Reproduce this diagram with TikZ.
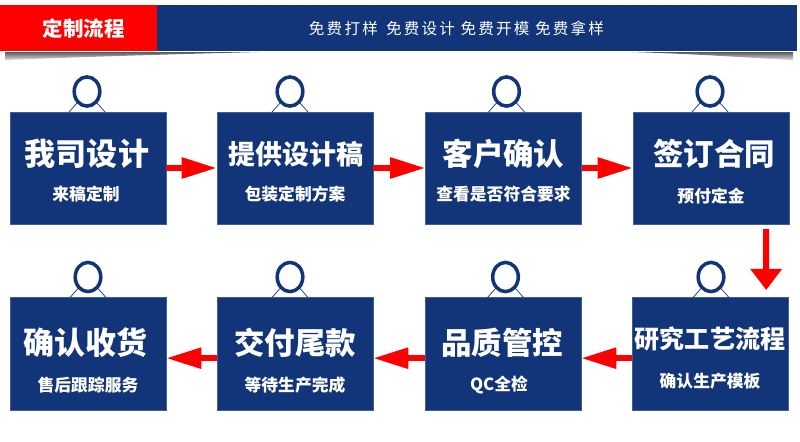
\documentclass[tikz,border=0pt]{standalone}
\usepackage{fontspec}
\usepackage{tikz}
\usetikzlibrary{arrows.meta}
\setmainfont{Noto Sans CJK SC}
\definecolor{navy}{RGB}{18, 52, 120}
\definecolor{flow}{RGB}{255, 0, 0}
\tikzset{
  signbox/.style={fill=navy, draw=navy!80!white, line width=0.4pt, minimum width=133pt, minimum height=96pt, inner sep=0pt},
  signtitle/.style={text=white, font=\bfseries, inner sep=0pt},
  signsub/.style={text=white, font=\bfseries\fontsize{14.3}{16}\selectfont, inner sep=0pt},
  ring/.style={draw=navy, line width=3pt, fill=white},
  leg/.style={draw=navy, line width=0.6pt},
  flowarrow/.style={draw=flow, line width=5pt, -{Triangle[length=30pt, width=17pt]}},
  flowdown/.style={draw=flow, line width=5pt, -{Triangle[length=18pt, width=26pt]}}
}

\begin{document}
\begin{tikzpicture}[x=0.03cm, y=-0.03cm]
  \useasboundingbox (0, 0) rectangle (800, 442);

  % Header band
  \shade [top color=black!65, bottom color=black!12] (5, 52) -- (5, 60) .. controls (80, 57) and (180, 54) .. (260, 52) -- cycle;
  \shade [top color=black!65, bottom color=black!12] (793, 52) -- (793, 60) .. controls (750, 58) and (700, 54) .. (630, 52) -- cycle;
  \fill [navy] (157, 5) rectangle (797, 51);
  \fill [flow] (0, 5) rectangle (157, 51);
  \node (head) [text=white, font=\fontsize{17.5}{20}\selectfont\bfseries, inner sep=0pt] at (84, 29) {定制流程};
  \node (slogan) [text=white, font=\fontsize{13.3}{16}\selectfont\addfontfeature{LetterSpace=14}, inner sep=0pt] at (456.5, 28) {免费打样\hspace{7pt}免费设计 免费开模 免费拿样};

  % Signs
  \foreach \name/\x/\y/\rx/\size/\title/\sub/\tx/\ty/\sx/\sy in {
    one/88/168/87/26.5/我司设计/来稿定制/-1/-14/-2/26,
    two/295/168/290/23/提供设计稿/包装定制方案/1/-14/0/26,
    three/503.5/168/506.5/26/客户确认/查看是否符合要求/0/-14/0/26,
    four/711/168/710/26/签订合同/预付定金/3/-14/0/28,
    five/710/353.5/711/21.4/研究工艺流程/确认生产模板/0/-15/0/28,
    six/503/353.5/505.5/26/品质管控/QC全检/-1/-11/-4/31,
    seven/295/353.5/290/26/交付尾款/等待生产完成/0/-11/0/32,
    eight/88/353.5/88/26.5/确认收货/售后跟踪服务/-2.5/-11/0/32} {
    \node (\name) [signbox] at (\x, \y) {};
    \node (\name title) [signtitle] at (\x + \tx, \y + \ty) {\fontsize{\size}{30}\selectfont \title};
    \node (\name sub) [signsub] at (\x + \sx, \y + \sy) {\sub};
    \draw [leg] (\rx - 18, \y - 56) -- (\rx - 10, \y - 65);
    \draw [leg] (\rx + 18, \y - 56) -- (\rx + 10, \y - 65);
    \draw [ring] (\rx, \y - 76.5) ellipse (12.8 and 14.6);
  }

  % Arrows
  \draw [flowarrow] (one) -- (two);
  \draw [flowarrow] (two) -- (three);
  \draw [flowarrow] (three) -- (four);
  \draw [flowdown, shorten <=4pt, shorten >=6pt] ([xshift=47pt] four.south) -- ([xshift=48pt] five.north);
  \draw [flowarrow] ([yshift=-4pt] five.west) -- ([yshift=-4pt] six.east);
  \draw [flowarrow] ([yshift=-4pt] six.west) -- ([yshift=-4pt] seven.east);
  \draw [flowarrow] ([yshift=-4pt] seven.west) -- ([yshift=-4pt] eight.east);
\end{tikzpicture}
\end{document}
